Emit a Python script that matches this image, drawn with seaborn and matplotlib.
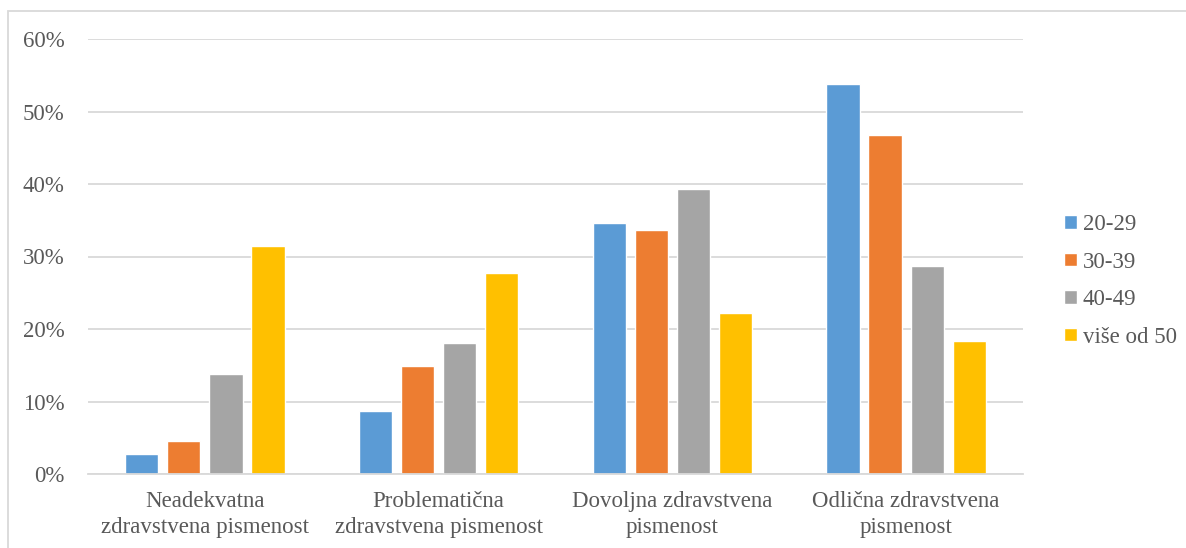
import matplotlib
matplotlib.use("Agg")
import matplotlib.pyplot as plt
import matplotlib.patches as mpatches
import seaborn as sns
import pandas as pd
from matplotlib.ticker import PercentFormatter

categories = ["Neadekvatna\nzdravstvena pismenost",
              "Problematična\nzdravstvena pismenost",
              "Dovoljna zdravstvena\npismenost",
              "Odlična zdravstvena\npismenost"]
groups = ["20-29", "30-39", "40-49", "više od 50"]
v_20_29 = [2.8, 8.7, 34.6, 53.8]
v_30_39 = [4.5, 14.9, 33.7, 46.7]
v_40_49 = [13.8, 18.1, 39.3, 28.7]
v_50 = [31.4, 27.7, 22.2, 18.4]
colors = ["#5B9BD5", "#ED7D31", "#A5A5A5", "#FFC000"]

rows = []
for g, vals in zip(groups, [v_20_29, v_30_39, v_40_49, v_50]):
    for c, v in zip(categories, vals):
        rows.append({"cat": c, "grp": g, "val": v})
df = pd.DataFrame(rows)

sns.set_theme(style="white")
plt.rcParams["font.family"] = ["Liberation Serif", "DejaVu Serif"]
text_color = "#595959"

fig = plt.figure(figsize=(11.86, 5.48), dpi=100)
ax = fig.add_axes([88 / 1186, 1 - 474 / 548, (1023 - 88) / 1186, (474 - 39) / 548])

sns.barplot(data=df, x="cat", y="val", hue="grp", order=categories, hue_order=groups,
            palette=colors, width=0.72, gap=0.21, saturation=1, ax=ax, legend=True)

ax.set_ylim(0, 60)
ax.set_yticks(range(0, 61, 10))
ax.yaxis.set_major_formatter(PercentFormatter(decimals=0))
ax.grid(axis="y", color="#D9D9D9", linewidth=1.3)
ax.set_axisbelow(True)
for s in ["top", "right", "left"]:
    ax.spines[s].set_visible(False)
ax.spines["bottom"].set_color("#D9D9D9")
ax.spines["bottom"].set_linewidth(1.3)
ax.set_xlabel("")
ax.set_ylabel("")
ax.tick_params(axis="both", length=0, labelsize=16.5, colors=text_color)
ax.tick_params(axis="y", pad=17)
ax.tick_params(axis="x", pad=12)
for lbl in ax.get_xticklabels():
    lbl.set_linespacing(1.35)

leg = ax.legend(loc="center left", bbox_to_anchor=(1.022, 0.444), frameon=False,
                fontsize=16.5, handlelength=0.55, handleheight=0.55, handletextpad=0.25,
                labelspacing=0.72, labelcolor=text_color)

border = mpatches.Rectangle((8 / 1186, -0.1), 1.2, 1 - 11 / 548 + 0.1, transform=fig.transFigure,
                            fill=False, edgecolor="#D9D9D9", linewidth=1.3)
fig.patches.append(border)

fig.savefig("out.png", dpi=100, facecolor="white")
